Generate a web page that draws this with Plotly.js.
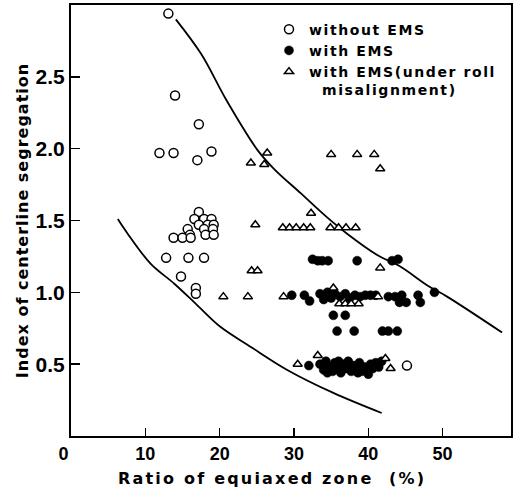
<!DOCTYPE html>
<html>
<head>
<meta charset="utf-8">
<script src="https://cdn.plot.ly/plotly-3.0.1.min.js"></script>
<style>
  html, body { margin: 0; padding: 0; background: #fff; overflow: hidden; }
  #chart { width: 513px; height: 493px; }
  .annotation-text { letter-spacing: 2.2px; }
  .ytitle { letter-spacing: 1px; }
  .legendtext { letter-spacing: 1.6px; }
</style>
</head>
<body>
<div id="chart"></div>
<script>
// Series: without EMS (open circles)
const woX = [13.1, 14.0, 17.2, 11.9, 13.8, 17.0, 18.9,
             17.2, 16.6, 17.9, 18.9, 17.2, 18.4, 19.2, 15.7, 17.9, 19.1, 16.0, 18.1, 19.2, 13.8, 15.0, 16.1,
             12.8, 15.8, 17.9, 14.8, 16.8, 16.8, 45.2];
const woY = [2.94, 2.37, 2.17, 1.97, 1.97, 1.92, 1.98,
             1.56, 1.51, 1.51, 1.51, 1.47, 1.47, 1.47, 1.44, 1.44, 1.44, 1.40, 1.40, 1.40, 1.38, 1.38, 1.38,
             1.24, 1.24, 1.24, 1.11, 1.03, 0.99, 0.49];

// Series: with EMS (filled circles)
const wX = [32.5, 33.2, 33.8, 34.6, 38.5, 43.2, 44.0,
            29.7, 31.4, 32.1, 33.5, 34.0, 34.5, 35.0, 35.5, 36.2, 36.9, 37.5, 38.2, 38.9, 39.6, 40.3, 41.0,
            42.7, 43.6, 44.5, 44.2, 45.1, 46.7, 47.0, 48.9,
            35.3, 36.9,
            35.8, 38.1, 41.9, 42.7, 43.9,
            32.0, 33.5, 34.0, 34.3, 34.8, 35.2, 35.5, 35.9, 36.3, 36.6, 37.0, 37.3, 37.7, 38.0, 38.4, 38.8,
            39.1, 39.5, 39.9, 40.3, 40.6, 41.0, 41.4, 41.8, 36.0, 38.6, 40.0, 34.5];
const wY = [1.23, 1.22, 1.22, 1.22, 1.22, 1.22, 1.23,
            0.98, 0.98, 0.94, 0.99, 0.95, 1.00, 0.96, 0.99, 0.97, 0.99, 0.96, 0.98, 0.97, 0.98, 0.98, 0.98,
            0.97, 0.97, 0.98, 0.93, 0.93, 0.98, 0.93, 1.00,
            0.84, 0.84,
            0.73, 0.73, 0.73, 0.73, 0.73,
            0.49, 0.50, 0.46, 0.52, 0.48, 0.45, 0.51, 0.47, 0.44, 0.50, 0.47, 0.52, 0.45, 0.49, 0.47, 0.51,
            0.45, 0.48, 0.46, 0.50, 0.47, 0.51, 0.48, 0.52, 0.52, 0.44, 0.43, 0.44];

// Series: with EMS under roll misalignment (open triangles)
const rmX = [24.2, 26.4, 26.0, 35.0, 38.5, 40.8, 41.6,
             32.3, 24.8, 28.5, 29.4, 30.3, 31.3, 32.2, 34.9, 36.0, 37.0, 38.3,
             24.3, 25.1, 41.6,
             20.5, 23.8, 28.6, 35.3, 36.1, 36.9, 37.7, 38.7, 41.3,
             30.5, 33.2, 42.3, 43.0];
const rmY = [1.90, 1.97, 1.89, 1.96, 1.96, 1.96, 1.86,
             1.55, 1.47, 1.45, 1.45, 1.45, 1.45, 1.45, 1.45, 1.45, 1.45, 1.45,
             1.15, 1.15, 1.17,
             0.97, 0.97, 0.97, 1.03, 0.92, 0.92, 0.92, 0.92, 0.97,
             0.50, 0.56, 0.54, 0.47];

// Envelope curves
const upX = [14.1, 17.5, 21.0, 25.1, 27.3, 30.9, 34.5, 37.1, 41.2, 44.3, 47.9, 50.6, 58.0];
const upY = [2.90, 2.66, 2.33, 1.99, 1.86, 1.69, 1.52, 1.41, 1.26, 1.18, 1.05, 0.97, 0.72];
const loX = [6.3, 7.6, 10.7, 13.9, 16.8, 20.1, 24.2, 29.1, 35.3, 41.8];
const loY = [1.51, 1.41, 1.20, 1.06, 0.92, 0.76, 0.62, 0.46, 0.30, 0.16];

// Ticks
const xTickVals = [0, 10, 20, 30, 40, 50];
const xTickText = ['0\u00a0\u00a0\u00a0', '10', '20', '30', '40', '50'];
const yTickVals = [0.5, 1.0, 1.5, 2.0, 2.5];
const yTickText = ['0.5', '1.0', '1.5', '2.0', '2.5'];

const FONT = 'DejaVu Sans, Liberation Sans, sans-serif';
const TICKFONT = 'Liberation Sans, Arial, sans-serif';

const traces = [
  { x: upX, y: upY, mode: 'lines', line: { color: '#000', width: 1.8, shape: 'spline' }, showlegend: false, hoverinfo: 'skip' },
  { x: loX, y: loY, mode: 'lines', line: { color: '#000', width: 1.8, shape: 'spline' }, showlegend: false, hoverinfo: 'skip' },
  { x: woX, y: woY, mode: 'markers', name: 'without EMS',
    marker: { symbol: 'circle', size: 9, color: '#fff', line: { color: '#000', width: 1.5 } } },
  { x: wX, y: wY, mode: 'markers', name: 'with EMS',
    marker: { symbol: 'circle', size: 9, color: '#000', line: { color: '#000', width: 0.5 } } },
  { x: rmX, y: rmY, mode: 'markers', name: 'with EMS(under roll<br>\u00a0\u00a0misalignment)',
    marker: { symbol: 'triangle-up', size: 8, color: '#fff', line: { color: '#000', width: 1.5 } } }
];

const layout = {
  width: 513, height: 493,
  margin: { l: 71, r: 2, t: 5, b: 57, autoexpand: false },
  paper_bgcolor: '#fff', plot_bgcolor: '#fff',
  font: { family: FONT, color: '#000' },
  showlegend: true,
  legend: {
    x: 0.45, y: 0.98, xanchor: 'left', yanchor: 'top', valign: 'top',
    bgcolor: 'rgba(0,0,0,0)', borderwidth: 0,
    font: { family: FONT, size: 14, color: '#000', weight: 'bold' },
    tracegroupgap: 0
  },
  annotations: [{
    text: 'Ratio of equiaxed zone\u00a0 (%)',
    xref: 'paper', yref: 'paper', x: 0.457, y: -0.098,
    xanchor: 'center', yanchor: 'middle', showarrow: false,
    font: { family: FONT, size: 16, color: '#000', weight: 'bold' }
  }],
  xaxis: {
    range: [0, 59.2], showgrid: false, zeroline: false,
    showline: true, linecolor: '#000', linewidth: 2, mirror: true,
    ticks: 'inside', ticklen: 8, tickwidth: 1.5, tickcolor: '#000',
    tickvals: xTickVals, ticktext: xTickText,
    tickfont: { family: TICKFONT, size: 18, color: '#000', weight: 'bold' }
  },
  yaxis: {
    range: [0, 3.0], showgrid: false, zeroline: false,
    showline: true, linecolor: '#000', linewidth: 2, mirror: true,
    ticks: 'inside', ticklen: 9, tickwidth: 1.5, tickcolor: '#000',
    tickvals: yTickVals, ticktext: yTickText,
    tickfont: { family: TICKFONT, size: 21, color: '#000', weight: 'bold' },
    title: { text: 'Index of centerline segregation', font: { family: FONT, size: 16, color: '#000', weight: 'bold' } }
  }
};

Plotly.newPlot('chart', traces, layout, { staticPlot: true, displayModeBar: false });
</script>
</body>
</html>
